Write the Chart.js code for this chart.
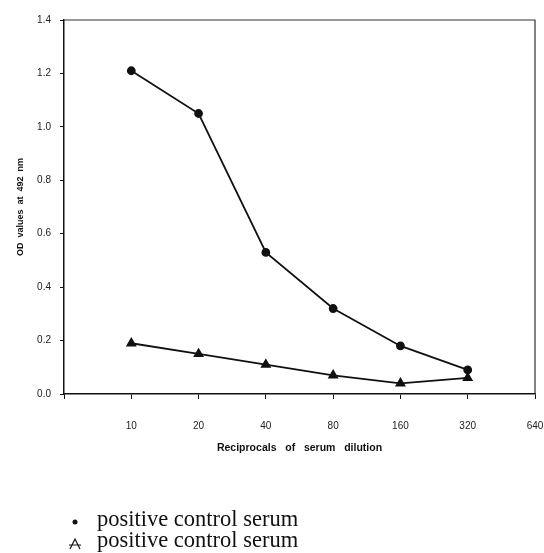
<!DOCTYPE html>
<html>
<head>
<meta charset="utf-8">
<script src="https://cdn.jsdelivr.net/npm/chart.js@4/dist/chart.umd.min.js"></script>
<style>
  html, body { margin: 0; padding: 0; background: #fff; }
  #wrap { width: 544px; height: 553px; position: relative; }
</style>
</head>
<body>
<div id="wrap"><canvas id="odChart"></canvas></div>
<script>
// 희석 배수 (x축 눈금)
const DILUTIONS = ["10", "20", "40", "80", "160", "320", "640"];
// 두 시리즈 OD 값
const SERUM_CIRCLE = [1.21, 1.05, 0.53, 0.32, 0.18, 0.09];
const SERUM_TRIANGLE = [0.19, 0.15, 0.11, 0.07, 0.04, 0.06];
const Y_TICKS = ["0.0", "0.2", "0.4", "0.6", "0.8", "1.0", "1.2", "1.4"];
const LEGEND_LABELS = ["positive control serum", "positive control serum"];

// 카테고리 인덱스 1..n 에 점을 올림 (0은 축 시작점)
const toPoints = (arr) => arr.map((v, i) => ({ x: i + 1, y: v }));

// 플롯 영역 테두리 (위/오른쪽)
const frameBox = {
    id: "frameBox",
    afterDraw(chart) {
        const { ctx, chartArea: a } = chart;
        ctx.save();
        ctx.strokeStyle = "#333";
        ctx.lineWidth = 1.2;
        ctx.beginPath();
        ctx.moveTo(a.left, a.top);
        ctx.lineTo(a.right, a.top);
        ctx.lineTo(a.right, a.bottom);
        ctx.stroke();
        ctx.restore();
    },
};

// 아래쪽 세로 범례
const stackLegend = {
    id: "stackLegend",
    afterDraw(chart) {
        const ctx = chart.ctx;
        ctx.save();
        ctx.fillStyle = "#111";
        ctx.strokeStyle = "#111";
        ctx.font = "22.5px 'Liberation Serif', 'Times New Roman', serif";
        ctx.textBaseline = "alphabetic";
        chart.data.datasets.forEach((ds, i) => {
            const y = 526 + i * 21;
            ctx.fillText(ds.label, 97, y);
            if (i === 0) {
                ctx.beginPath();
                ctx.arc(75, y - 4, 2.5, 0, Math.PI * 2);
                ctx.fill();
            } else {
                ctx.lineWidth = 1.2;
                ctx.beginPath();
                ctx.moveTo(70, y + 2);
                ctx.lineTo(75, y - 8);
                ctx.lineTo(80, y + 2);
                ctx.moveTo(69, y - 2);
                ctx.lineTo(81, y - 2);
                ctx.stroke();
            }
        });
        ctx.restore();
    },
};

function initChart() {
    const ctx = document.getElementById("odChart").getContext("2d");
    new Chart(ctx, {
        type: "line",
        data: {
            datasets: [
                {
                    label: LEGEND_LABELS[0],
                    data: toPoints(SERUM_CIRCLE),
                    borderColor: "#111",
                    backgroundColor: "#111",
                    borderWidth: 1.8,
                    pointStyle: "circle",
                    pointRadius: 3.5,
                    tension: 0,
                },
                {
                    label: LEGEND_LABELS[1],
                    data: toPoints(SERUM_TRIANGLE),
                    borderColor: "#111",
                    backgroundColor: "#111",
                    borderWidth: 1.8,
                    pointStyle: "triangle",
                    pointRadius: 4.5,
                    tension: 0,
                },
            ],
        },
        options: {
            responsive: true,
            maintainAspectRatio: false,
            animation: false,
            layout: { padding: { left: 0, top: 20, right: 9, bottom: 95 } },
            scales: {
                x: {
                    type: "linear",
                    min: 0,
                    max: DILUTIONS.length,
                    border: { color: "#111", width: 1.5 },
                    grid: { drawOnChartArea: false, tickLength: 5, color: "#111" },
                    ticks: {
                        stepSize: 1,
                        padding: 21,
                        color: "#222",
                        font: { family: "'Liberation Sans', Arial, sans-serif", size: 10 },
                        maxRotation: 0,
                        callback: (v) => (v >= 1 ? DILUTIONS[v - 1] : ""),
                    },
                    title: {
                        display: true,
                        text: "Reciprocals   of   serum   dilution",
                        color: "#111",
                        font: { family: "'Liberation Sans', Arial, sans-serif", size: 10.5, weight: "bold" },
                        padding: { top: 12, bottom: 4 },
                    },
                    afterFit: (scale) => {
                        scale.height = 64;
                        scale.paddingRight = 0;
                        scale.paddingLeft = 0;
                    },
                },
                y: {
                    min: 0,
                    max: 1.4,
                    border: { color: "#111", width: 1.5 },
                    grid: { drawOnChartArea: false, tickLength: 4, color: "#111" },
                    ticks: {
                        stepSize: 0.2,
                        padding: 9,
                        color: "#222",
                        font: { family: "'Liberation Sans', Arial, sans-serif", size: 10 },
                        callback: (v, i) => Y_TICKS[i],
                    },
                    title: {
                        display: true,
                        text: "OD  values  at  492  nm",
                        color: "#111",
                        font: { family: "'Liberation Sans', Arial, sans-serif", size: 9, weight: "bold" },
                        padding: { top: 15, bottom: 0 },
                    },
                    afterFit: (scale) => { scale.width = 64; },
                },
            },
            plugins: {
                legend: { display: false },
                tooltip: { enabled: false },
            },
        },
        plugins: [frameBox, stackLegend],
    });
}

window.addEventListener("load", initChart);
</script>
</body>
</html>
